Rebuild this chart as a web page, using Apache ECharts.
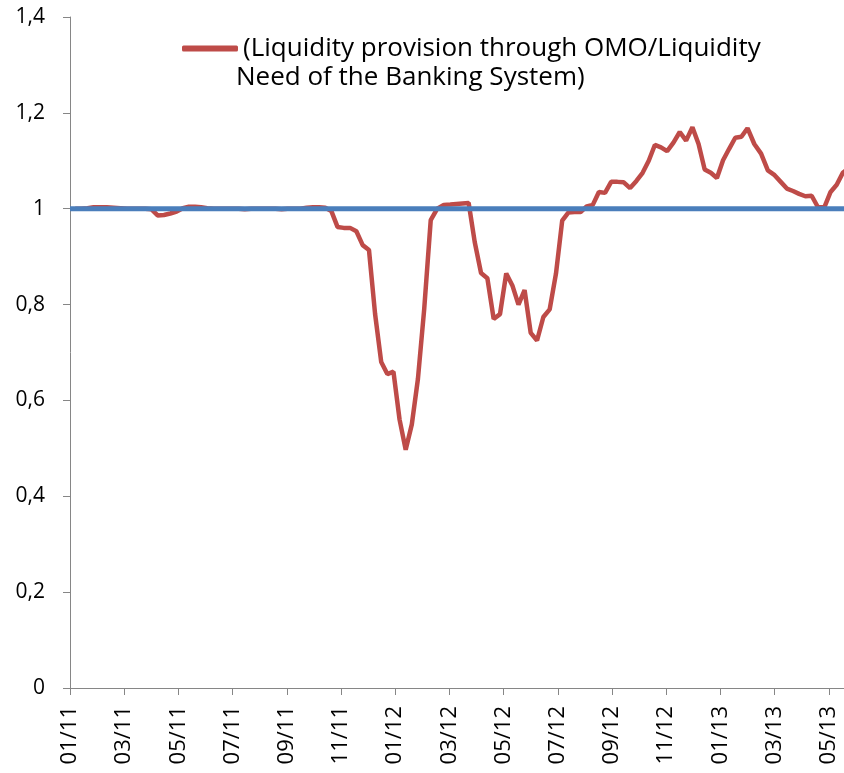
<!DOCTYPE html>
<html>
<head>
<meta charset="utf-8">
<script src="https://cdn.jsdelivr.net/npm/echarts@6/dist/echarts.min.js"></script>
<style>
  html, body { margin: 0; padding: 0; background: #fff; }
  #chart { width: 844px; height: 773px; }
</style>
</head>
<body>
<div id="chart"></div>
<script>
// weekly readings, first one on 2011-01-07
const firstWeek = '2011-01-07'
const ratio = [
  1.0, 1.0, 1.001, 1.003, 1.003, 1.003, 1.002, 1.001, 1.0, 1.0, 1.0, 1.0, 0.999,
  0.986, 0.987, 0.99, 0.994, 1.001, 1.004, 1.004, 1.003, 1.001, 1.0,
  1.0, 1.0, 1.0, 1.0, 0.999, 1.0, 1.0, 1.0, 1.0, 1.0, 0.999, 1.0, 1.0, 1.0,
  1.002, 1.003, 1.003, 1.002,
  0.995, 0.962, 0.96, 0.96, 0.953, 0.924, 0.914, 0.78, 0.68, 0.655, 0.66, 0.56,
  0.497, 0.55, 0.645, 0.79, 0.976, 1.0, 1.008, 1.009, 1.01, 1.011, 1.012,
  0.93, 0.866, 0.855, 0.77, 0.78, 0.865, 0.84, 0.8, 0.83, 0.741, 0.725, 0.774,
  0.79, 0.865, 0.975, 0.992, 0.993, 0.993, 1.005, 1.008,
  1.035, 1.033, 1.056, 1.056, 1.055, 1.043, 1.058, 1.075, 1.1, 1.133, 1.128,
  1.12, 1.138, 1.16, 1.142, 1.17, 1.135, 1.082, 1.075, 1.064,
  1.101, 1.125, 1.148, 1.15, 1.168, 1.135, 1.115, 1.08, 1.07, 1.056, 1.042,
  1.037, 1.031, 1.026, 1.027, 1.003, 1.003, 1.035, 1.05, 1.075, 1.085
]
const parityDates = ['2011-01-01', '2013-06-30']
const parity = [1, 1]
const tickLabels = ['01/11', '03/11', '05/11', '07/11', '09/11', '11/11', '01/12',
  '03/12', '05/12', '07/12', '09/12', '11/12', '01/13', '03/13', '05/13']
const seriesName = '(Liquidity provision through OMO/Liquidity\nNeed of the Banking System)'

// months elapsed since Jan 2011
function monthPos(d) {
  const y = d.getUTCFullYear(), m = d.getUTCMonth()
  const days = new Date(Date.UTC(y, m + 1, 0)).getUTCDate()
  return (y - 2011) * 12 + m + (d.getUTCDate() - 1) / days
}

const start = new Date(firstWeek + 'T00:00:00Z')
const redData = ratio.map((v, i) => {
  const d = new Date(start.getTime() + i * 7 * 86400000)
  return [monthPos(d), v]
})
const blueData = parityDates.map((s, i) => [monthPos(new Date(s + 'T00:00:00Z')), parity[i]])

const axisColor = '#868686'
const font = 'Open Sans'
const nameLines = seriesName.split('\n')

const chart = echarts.init(document.getElementById('chart'))
chart.setOption({
  animation: false,
  grid: { left: 70, right: 0, top: 17, bottom: 85, containLabel: false, outerBoundsMode: 'none' },
  legend: {
    data: [seriesName],
    left: 177,
    top: 27,
    icon: 'roundRect',
    itemWidth: 56,
    itemHeight: 6,
    itemGap: 0,
    formatter: () => nameLines[0],
    textStyle: { fontFamily: font, fontSize: 26, color: '#000', lineHeight: 33 }
  },
  graphic: [{
    type: 'text',
    left: 236,
    top: 65,
    style: { text: nameLines[1], font: '26px "Open Sans"', fill: '#000' }
  }],
  xAxis: {
    type: 'value',
    min: 0,
    max: 28.56,
    interval: 2,
    axisLine: { lineStyle: { color: axisColor, width: 1 } },
    axisTick: { length: 7, lineStyle: { color: axisColor } },
    splitLine: { show: false },
    axisLabel: {
      rotate: 90,
      margin: 18,
      showMaxLabel: false,
      color: '#000',
      fontFamily: font,
      fontSize: 22,
      formatter: v => (Number.isInteger(v) && v % 2 === 0 ? tickLabels[v / 2] || '' : '')
    }
  },
  yAxis: {
    type: 'value',
    min: 0,
    max: 1.4,
    interval: 0.2,
    axisLine: { show: true, lineStyle: { color: axisColor, width: 1 } },
    axisTick: { show: true, length: 7, lineStyle: { color: axisColor } },
    splitLine: { show: false },
    axisLabel: {
      margin: 25,
      color: '#000',
      fontFamily: font,
      fontSize: 21,
      formatter: v => String(Math.round(v * 10) / 10).replace('.', ',')
    }
  },
  series: [
    {
      name: seriesName,
      type: 'line',
      data: redData,
      showSymbol: false,
      color: '#be4b48',
      lineStyle: { width: 4.5, color: '#be4b48' },
      z: 2
    },
    {
      name: 'Parity',
      type: 'line',
      data: blueData,
      showSymbol: false,
      color: '#4a7ebb',
      lineStyle: { width: 5, color: '#4a7ebb' },
      z: 3
    }
  ]
})
</script>
</body>
</html>
